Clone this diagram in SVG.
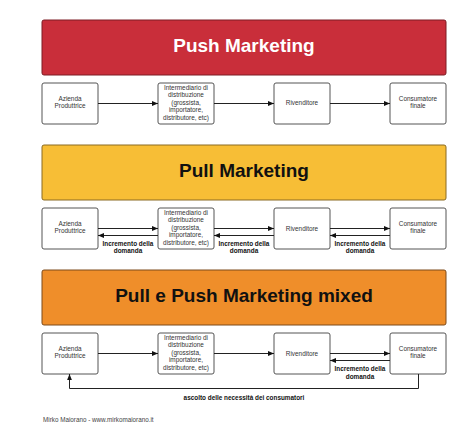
<svg xmlns="http://www.w3.org/2000/svg" width="474" height="439" viewBox="0 0 474 439">
<defs>
<marker id="ah" viewBox="0 0 6 6" refX="6" refY="3" markerWidth="6" markerHeight="6" markerUnits="userSpaceOnUse" orient="auto">
<path d="M0,0.6 L6,3 L0,5.4 Z" fill="#111"/>
</marker>
<style>
.banner{stroke-width:1}
.title{font-family:"Liberation Sans",Arial,sans-serif;font-weight:bold;font-size:19px;text-anchor:middle}
.box{fill:#fff;stroke:#555;stroke-width:1}
.bt{font-family:"Liberation Sans",Arial,sans-serif;font-size:6.4px;fill:#333;text-anchor:middle}
.lbl{font-family:"Liberation Sans",Arial,sans-serif;font-size:6.4px;font-weight:bold;fill:#111;text-anchor:middle}
.foot{font-family:"Liberation Sans",Arial,sans-serif;font-size:6.3px;fill:#444}
.ln{fill:none;stroke:#222;stroke-width:1;marker-end:url(#ah)}
</style>
</defs>
<rect width="474" height="439" fill="#fff"/>

<g id="banner-push">
<rect class="banner" x="42" y="20" width="404" height="55" rx="2" fill="#C92E3A" stroke="#7d1c24"/>
<text class="title" x="244" y="52" fill="#fff">Push Marketing</text>
</g>
<g id="banner-pull">
<rect class="banner" x="42" y="145" width="404" height="55" rx="2" fill="#F7BE36" stroke="#8a6a22"/>
<text class="title" x="244" y="177" fill="#111">Pull Marketing</text>
</g>
<g id="banner-mixed">
<rect class="banner" x="42" y="270" width="404" height="55" rx="2" fill="#EF8E2A" stroke="#7d4a1a"/>
<text class="title" x="244" y="302" fill="#111">Pull e Push Marketing mixed</text>
</g>

<!-- Row 1 -->
<g id="r1-azienda"><rect class="box" x="42" y="83" width="56" height="41" rx="2"/>
<text class="bt" x="70" y="101.3">Azienda</text><text class="bt" x="70" y="108.3">Produttrice</text></g>
<g id="r1-intermediario"><rect class="box" x="158" y="83" width="56" height="41" rx="2"/>
<text class="bt" x="186" y="89.5">Intermediario di</text><text class="bt" x="186" y="97">distribuzione</text><text class="bt" x="186" y="104.5">(grossista,</text><text class="bt" x="186" y="112">importatore,</text><text class="bt" x="186" y="119.5">distributore, etc)</text></g>
<g id="r1-rivenditore"><rect class="box" x="274" y="83" width="56" height="41" rx="2"/>
<text class="bt" x="302" y="105">Rivenditore</text></g>
<g id="r1-consumatore"><rect class="box" x="390" y="83" width="56" height="41" rx="2"/>
<text class="bt" x="418" y="101.3">Consumatore</text><text class="bt" x="418" y="108.3">finale</text></g>

<!-- Row 2 -->
<g id="r2-azienda"><rect class="box" x="42" y="208" width="56" height="41" rx="2"/>
<text class="bt" x="70" y="226.3">Azienda</text><text class="bt" x="70" y="233.3">Produttrice</text></g>
<g id="r2-intermediario"><rect class="box" x="158" y="208" width="56" height="41" rx="2"/>
<text class="bt" x="186" y="214.5">Intermediario di</text><text class="bt" x="186" y="222">distribuzione</text><text class="bt" x="186" y="229.5">(grossista,</text><text class="bt" x="186" y="237">importatore,</text><text class="bt" x="186" y="244.5">distributore, etc)</text></g>
<g id="r2-rivenditore"><rect class="box" x="274" y="208" width="56" height="41" rx="2"/>
<text class="bt" x="302" y="230.5">Rivenditore</text></g>
<g id="r2-consumatore"><rect class="box" x="390" y="208" width="56" height="41" rx="2"/>
<text class="bt" x="418" y="226.3">Consumatore</text><text class="bt" x="418" y="233.3">finale</text></g>

<!-- Row 3 -->
<g id="r3-azienda"><rect class="box" x="42" y="333" width="56" height="41" rx="2"/>
<text class="bt" x="70" y="351.3">Azienda</text><text class="bt" x="70" y="358.3">Produttrice</text></g>
<g id="r3-intermediario"><rect class="box" x="158" y="333" width="56" height="41" rx="2"/>
<text class="bt" x="186" y="339.5">Intermediario di</text><text class="bt" x="186" y="347">distribuzione</text><text class="bt" x="186" y="354.5">(grossista,</text><text class="bt" x="186" y="362">importatore,</text><text class="bt" x="186" y="369.5">distributore, etc)</text></g>
<g id="r3-rivenditore"><rect class="box" x="274" y="333" width="56" height="41" rx="2"/>
<text class="bt" x="302" y="355.5">Rivenditore</text></g>
<g id="r3-consumatore"><rect class="box" x="390" y="333" width="56" height="41" rx="2"/>
<text class="bt" x="418" y="351.3">Consumatore</text><text class="bt" x="418" y="358.3">finale</text></g>

<g id="connectors">
<line class="ln" x1="98" y1="103.5" x2="158" y2="103.5"/>
<line class="ln" x1="214" y1="103.5" x2="274" y2="103.5"/>
<line class="ln" x1="330" y1="103.5" x2="390" y2="103.5"/>

<line class="ln" x1="98" y1="228.5" x2="158" y2="228.5"/>
<line class="ln" x1="214" y1="228.5" x2="274" y2="228.5"/>
<line class="ln" x1="330" y1="228.5" x2="390" y2="228.5"/>
<line class="ln" x1="158" y1="235.5" x2="98" y2="235.5"/>
<line class="ln" x1="274" y1="235.5" x2="214" y2="235.5"/>
<line class="ln" x1="390" y1="235.5" x2="330" y2="235.5"/>

<line class="ln" x1="98" y1="353.5" x2="158" y2="353.5"/>
<line class="ln" x1="214" y1="353.5" x2="274" y2="353.5"/>
<line class="ln" x1="330" y1="353.5" x2="390" y2="353.5"/>
<line class="ln" x1="390" y1="360.5" x2="330" y2="360.5"/>
<path class="ln" d="M418.5,374 V388.5 H69.5 V374"/>

<text class="lbl" x="128" y="245.8">Incremento della</text><text class="lbl" x="128" y="252.8">domanda</text>
<text class="lbl" x="244" y="245.8">Incremento della</text><text class="lbl" x="244" y="252.8">domanda</text>
<text class="lbl" x="360" y="245.8">Incremento della</text><text class="lbl" x="360" y="252.8">domanda</text>
<text class="lbl" x="360" y="370.8">Incremento della</text><text class="lbl" x="360" y="378.6">domanda</text>
<text class="lbl" x="244" y="400.3">ascolto delle necessità dei consumatori</text>
</g>

<text class="foot" x="43" y="421.5">Mirko Maiorano - www.mirkomaiorano.it</text>
</svg>
